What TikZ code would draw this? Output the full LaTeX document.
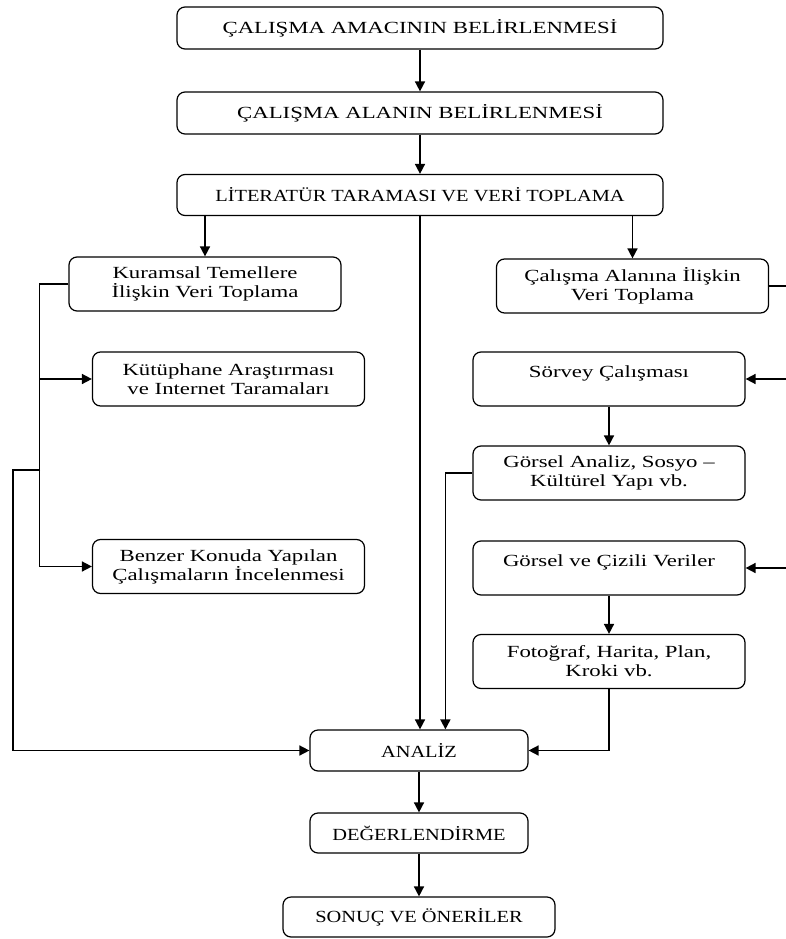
\documentclass[tikz,border=0pt]{standalone}
\usepackage{fontspec}
\setmainfont{Liberation Serif}[FakeStretch=1.34]
\newfontfamily\tightfont{Liberation Serif}[FakeStretch=1.2]
\usetikzlibrary{arrows.meta}

\begin{document}
\begin{tikzpicture}[x=1pt,y=-1pt,
  box/.style={draw,line width=1.2pt,rounded corners=8pt,align=center,inner sep=0pt,
    font=\fontsize{17}{19}\selectfont},
  sbox/.style={box,minimum width=272pt,minimum height=54pt},
  tbox/.style={sbox,text height=12pt,text depth=16pt},
  wbox/.style={box,minimum width=486pt,minimum height=42pt},
  abox/.style={box,minimum width=218pt,minimum height=41pt},
  arr/.style={line width=1.6pt,-{Triangle[length=10pt,width=10pt]}},
  ln/.style={line width=1.4pt}]
  \useasboundingbox (0,0) rectangle (785,939);
  % main column
  \node[wbox] (amac) at (420,28) {ÇALIŞMA AMACININ BELİRLENMESİ};
  \node[wbox] (alan) at (420,113) {ÇALIŞMA ALANIN BELİRLENMESİ};
  \node[wbox,minimum height=41pt] (lit) at (420,195) {\tightfont LİTERATÜR TARAMASI VE VERİ TOPLAMA};
  % left branch
  \node[sbox] (kur) at (205,284) {Kuramsal Temellere\\İlişkin Veri Toplama};
  \node[sbox] (kut) at (228.5,379) {Kütüphane Araştırması\\ve Internet Taramaları};
  \node[sbox] (benz) at (228.5,566.5) {Benzer Konuda Yapılan\\Çalışmaların İncelenmesi};
  % right branch
  \node[sbox] (cal) at (632.5,286) {Çalışma Alanına İlişkin\\Veri Toplama};
  \node[tbox] (sorv) at (609,379) {Sörvey Çalışması};
  \node[sbox] (gora) at (609,473) {Görsel Analiz, Sosyo --\\Kültürel Yapı vb.};
  \node[tbox] (gorc) at (609,568) {Görsel ve Çizili Veriler};
  \node[sbox] (foto) at (609,661.5) {Fotoğraf, Harita, Plan,\\Kroki vb.};
  % bottom
  \node[abox] (analiz) at (419,750.5) {\tightfont ANALİZ};
  \node[abox,minimum height=40pt] (deger) at (419,833) {\tightfont DEĞERLENDİRME};
  \node[sbox,minimum height=40pt] (sonuc) at (419,917) {\tightfont SONUÇ VE ÖNERİLER};

  \draw[arr] (amac) -- (alan);
  \draw[arr] (alan) -- (lit);
  \draw[arr] (kur.north |- lit.south) -- (kur.north);
  \draw[arr] (lit.south) -- (lit.south |- analiz.north);
  \draw[arr] (cal.north |- lit.south) -- (cal.north);
  % left bracket
  \draw[ln] (kur.west) -- ++(-29,0) coordinate (kl);
  \draw[arr] (kl) |- (benz.west);
  \draw[arr] (kl |- kut.west) -- (kut.west);
  \coordinate (kj) at (40,470);
  \draw[arr] (kj) -- ++(-27,0) |- (analiz.west);
  % right bracket
  \draw[ln] (cal.east) -- ++(22,0) coordinate (cr);
  \draw[arr] (cr) |- (sorv.east);
  \draw[arr] (cr |- gorc.east) -- (gorc.east);
  \draw[arr] (sorv) -- (gora);
  \draw[ln] (gora.west) -- ++(-27,0) coordinate (gl);
  \draw[arr] (gl) -- (gl |- analiz.north);
  \draw[arr] (gorc) -- (foto);
  \draw[arr] (foto.south) |- (analiz.east);
  \draw[arr] (analiz) -- (deger);
  \draw[arr] (deger) -- (sonuc);
\end{tikzpicture}
\end{document}
